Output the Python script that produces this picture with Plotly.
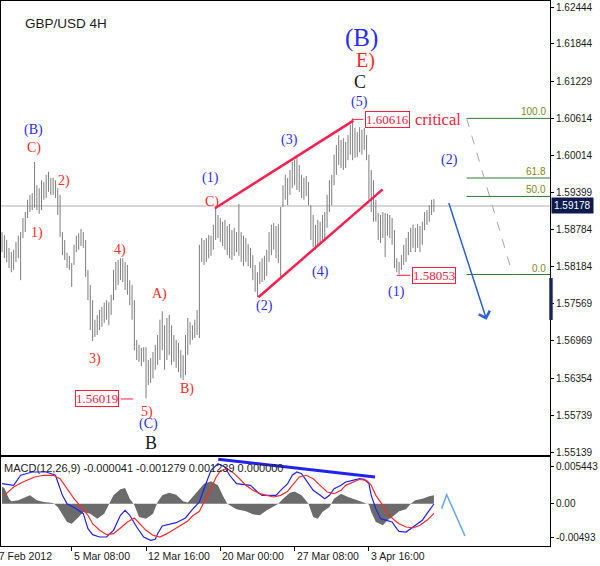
import plotly.graph_objects as go

# ---------------- data ----------------
bar_index = list(range(2, 189))  # 4H bars, index 0 = 27 Feb 2012 00:00

bar_high = [
    1.5875, 1.5870, 1.5862, 1.5849, 1.5842, 1.5846, 1.5859, 1.5869, 1.5875, 1.5898,
    1.5908, 1.5928, 1.5936, 1.5939, 1.5990, 1.5952, 1.5947, 1.5960, 1.5957, 1.5969,
    1.5974, 1.5964, 1.5964, 1.5960, 1.5947, 1.5936, 1.5875, 1.5862, 1.5841, 1.5836,
    1.5824, 1.5854, 1.5869, 1.5873, 1.5880, 1.5875, 1.5862, 1.5813, 1.5788, 1.5763,
    1.5731, 1.5739, 1.5747, 1.5752, 1.5759, 1.5763, 1.5760, 1.5772, 1.5813, 1.5826,
    1.5829, 1.5832, 1.5832, 1.5826, 1.5821, 1.5796, 1.5788, 1.5763, 1.5698, 1.5690,
    1.5685, 1.5686, 1.5686, 1.5665, 1.5668, 1.5678, 1.5690, 1.5706, 1.5731, 1.5745,
    1.5722, 1.5734, 1.5739, 1.5722, 1.5706, 1.5698, 1.5693, 1.5681, 1.5673, 1.5706,
    1.5734, 1.5727, 1.5722, 1.5731, 1.5747, 1.5854, 1.5865, 1.5862, 1.5865, 1.5870,
    1.5869, 1.5887, 1.5915, 1.5903, 1.5898, 1.5892, 1.5895, 1.5885, 1.5888, 1.5878,
    1.5882, 1.5875, 1.5921, 1.5875, 1.5869, 1.5865, 1.5855, 1.5849, 1.5837, 1.5821,
    1.5809, 1.5826, 1.5832, 1.5836, 1.5846, 1.5875, 1.5887, 1.5890, 1.5885, 1.5888,
    1.5916, 1.5952, 1.5969, 1.5964, 1.5977, 1.5990, 1.5993, 1.5998, 1.5985, 1.5969,
    1.5964, 1.5967, 1.5957, 1.5919, 1.5903, 1.5887, 1.5895, 1.5892, 1.5903, 1.5908,
    1.5936, 1.5960, 1.5969, 1.6002, 1.6018, 1.6034, 1.6026, 1.6029, 1.6023, 1.6034,
    1.6051, 1.60616, 1.6046, 1.6039, 1.6047, 1.6043, 1.6046, 1.6034, 1.6002, 1.5977,
    1.5960, 1.5928, 1.5906, 1.5903, 1.5908, 1.5906, 1.5905, 1.5903, 1.5898, 1.5878,
    1.5832, 1.5826, 1.5837, 1.5854, 1.5865, 1.5875, 1.5882, 1.5887, 1.5882, 1.5888,
    1.5885, 1.5892, 1.5908, 1.5911, 1.5919, 1.5928, 1.5929,
]
bar_low = [
    1.5842, 1.5832, 1.5826, 1.5816, 1.5809, 1.5813, 1.5826, 1.5832, 1.5796, 1.5865,
    1.5875, 1.5898, 1.5908, 1.5911, 1.5915, 1.5911, 1.5905, 1.5911, 1.5928, 1.5931,
    1.5941, 1.5936, 1.5936, 1.5931, 1.5903, 1.5867, 1.5837, 1.5829, 1.5816, 1.5813,
    1.5785, 1.5821, 1.5842, 1.5846, 1.5852, 1.5849, 1.5801, 1.5763, 1.5714, 1.5696,
    1.5703, 1.5706, 1.5714, 1.5719, 1.5726, 1.5731, 1.5722, 1.5739, 1.5763, 1.5780,
    1.5788, 1.5796, 1.5793, 1.5780, 1.5772, 1.5755, 1.5731, 1.5681, 1.5665, 1.5662,
    1.5655, 1.5662, 1.56019, 1.5624, 1.5627, 1.5635, 1.5649, 1.5657, 1.5665, 1.5681,
    1.5649, 1.5665, 1.5673, 1.5657, 1.5662, 1.5652, 1.5645, 1.5635, 1.5632, 1.5640,
    1.5673, 1.5690, 1.5698, 1.5701, 1.5706, 1.5701, 1.5826, 1.5821, 1.5826, 1.5832,
    1.5836, 1.5846, 1.5862, 1.5865, 1.5859, 1.5852, 1.5846, 1.5837, 1.5832, 1.5829,
    1.5836, 1.5842, 1.5836, 1.5826, 1.5819, 1.5826, 1.5819, 1.5816, 1.5796, 1.5777,
    1.5768, 1.5790, 1.5793, 1.5796, 1.5803, 1.5826, 1.5837, 1.5846, 1.5832, 1.5824,
    1.5801, 1.5916, 1.5928, 1.5919, 1.5936, 1.5947, 1.5952, 1.5944, 1.5941, 1.5931,
    1.5928, 1.5934, 1.5919, 1.5862, 1.5850, 1.5846, 1.5854, 1.5855, 1.5862, 1.5865,
    1.5882, 1.5908, 1.5919, 1.5952, 1.5969, 1.5985, 1.5980, 1.5977, 1.5980, 1.5993,
    1.6002, 1.5993, 1.5997, 1.5998, 1.6006, 1.6002, 1.6010, 1.5993, 1.5928, 1.5908,
    1.5892, 1.5892, 1.5862, 1.5857, 1.5865, 1.5834, 1.5869, 1.5865, 1.5854, 1.5816,
    1.5809, 1.58053, 1.5813, 1.5821, 1.5826, 1.5837, 1.5842, 1.5849, 1.5842, 1.5849,
    1.5842, 1.5854, 1.5878, 1.5887, 1.5892, 1.5903, 1.5908,
]

macd_main_k = [2, 7, 10, 15, 21, 25, 28, 30, 34, 37, 39, 41, 44, 47, 50, 53, 55, 57, 60, 63,
               66, 68, 69, 71, 77, 81, 84, 87, 89, 92, 95, 98, 100, 103, 109, 112, 114, 120, 122, 125,
               127, 129, 131, 133, 136, 139, 141, 143, 145, 148, 150, 153, 156, 158, 160, 161, 163, 165, 168, 170,
               172, 173, 176, 178, 181, 183, 185, 188]
macd_main = [0.00293, 0.00269, 0.00416, 0.00464, 0.00464, 0.00416, 0.00123, 0.0, -0.00072, -0.00145,
             -0.00364, -0.00452, -0.00486, -0.00486, -0.00388, -0.00169, -0.00096, -0.00169, -0.00340, -0.00486,
             -0.00534, -0.00520, -0.00437, -0.00325, -0.00277, -0.00208, -0.00081, 0.00026, 0.00220, 0.00489,
             0.00585, 0.00537, 0.00416, 0.00293, 0.00269, 0.00172, 0.00123, 0.00123, 0.00196, 0.00293,
             0.00416, 0.00464, 0.00440, 0.00342, 0.00196, 0.00123, 0.00074, 0.00123, 0.00220, 0.00269,
             0.00318, 0.00342, 0.00366, 0.00357, 0.00293, 0.00123, -0.00072, -0.00218, -0.00242, -0.00267,
             -0.00364, -0.00403, -0.00413, -0.00364, -0.00291, -0.00242, -0.00145, -0.00004]

macd_signal_k = [3, 7, 11, 16, 20, 24, 27, 30, 33, 36, 39, 41, 44, 47, 50, 53, 56, 59, 61, 64,
                 67, 70, 73, 76, 79, 82, 84, 87, 89, 92, 94, 96, 99, 102, 105, 107, 110, 113, 116, 119,
                 122, 125, 127, 130, 133, 136, 139, 142, 145, 148, 150, 153, 156, 159, 161, 163, 166, 168, 171, 173,
                 176, 179, 182, 185, 188]
macd_signal = [0.00123, 0.00245, 0.00318, 0.00391, 0.00416, 0.00416, 0.00366, 0.00220, 0.00074, -0.00047,
               -0.00169, -0.00291, -0.00388, -0.00452, -0.00437, -0.00354, -0.00267, -0.00208, -0.00277, -0.00388,
               -0.00461, -0.00486, -0.00437, -0.00374, -0.00306, -0.00252, -0.00179, -0.00110, 0.00026, 0.00220,
               0.00376, 0.00483, 0.00512, 0.00440, 0.00342, 0.00269, 0.00196, 0.00147, 0.00123, 0.00099,
               0.00123, 0.00182, 0.00269, 0.00391, 0.00416, 0.00366, 0.00269, 0.00172, 0.00147, 0.00196,
               0.00269, 0.00318, 0.00357, 0.00342, 0.00269, 0.00123, -0.00023, -0.00145, -0.00242, -0.00291,
               -0.00340, -0.00354, -0.00315, -0.00242, -0.00140]

macd_hist_k = [2, 3, 5, 6, 9, 12, 14, 17, 20, 24, 26, 30, 32, 35, 37, 40, 43, 46, 48, 50,
               53, 55, 57, 59, 61, 64, 67, 69, 71, 74, 77, 80, 82, 84, 87, 89, 92, 95, 97, 99,
               103, 107, 110, 113, 116, 119, 121, 123, 126, 128, 131, 134, 136, 138, 140, 143, 145, 148, 151, 155,
               158, 160, 161, 163, 166, 168, 171, 173, 176, 178, 180, 183, 186, 188]
macd_hist = [0.00245, 0.0023, 0.00074, 0.00035, 0.0005, 0.00099, 0.00123, 0.0005, 0.00025, 0.0001,
             -0.00047, -0.00267, -0.00291, -0.00194, -0.00121, -0.00145, -0.00218, -0.00145, -0.00018, 0.00123,
             0.00211, 0.0023, 0.00074, -0.0002, -0.00194, -0.00218, -0.00145, 0.00025, 0.00123, 0.00162,
             0.0013, 0.00035, 0.0002, 0.00099, 0.0023, 0.00293, 0.00328, 0.00269, 0.00123, 0.0,
             -0.00081, -0.0011, -0.00154, -0.00169, -0.00096, -0.00032, 0.0, 0.00074, 0.0016, 0.0018,
             0.00123, 0.0, -0.00194, -0.00218, -0.00121, -0.00047, 0.00074, 0.00147, 0.00099, 0.0005,
             0.0001, -0.0001, -0.00121, -0.00267, -0.00315, -0.00242, -0.00169, -0.0011, -0.0008, 0.0,
             0.0005, 0.00074, 0.0011, 0.00124]

price_ticks = [1.62444, 1.61844, 1.61229, 1.60614, 1.60014, 1.59399, 1.58784,
               1.58184, 1.57569, 1.56969, 1.56354, 1.55739, 1.55139]
macd_ticks = [0.005443, 0.0, -0.00493]
macd_tick_text = ["0.005443", "0.00", "-0.00493"]
date_ticks = [0, 32, 64, 96, 128, 160]
date_labels = ["27 Feb 2012", "5 Mar 08:00", "12 Mar 16:00", "20 Mar 00:00", "27 Mar 08:00", "3 Apr 16:00"]

last_price = 1.59178
fib_high = 1.60616
fib_low = 1.58053
fib_levels = [100.0, 61.8, 50.0, 0.0]
macd_text = "MACD(12,26,9) -0.000041 -0.001279 0.001239 0.000000"

RED = "#ff2b2b"
BLUE = "#2b2bff"
BLACK = "#1a1a1a"
wave_labels = [
    ("(B)", 15.5, 1.6043, BLUE, 14), ("C)", 15.8, 1.6013, RED, 14),
    ("1)", 17.2, 1.5873, RED, 14), ("2)", 28.7, 1.5959, RED, 14),
    ("3)", 42.0, 1.5666, RED, 14), ("4)", 52.8, 1.5846, RED, 14),
    ("5)", 64.3, 1.5580, RED, 14), ("(C)", 65.0, 1.5560, BLUE, 14),
    ("B", 66.0, 1.5528, BLACK, 18), ("A)", 70.0, 1.5773, RED, 14),
    ("B)", 81.8, 1.5618, RED, 14), ("(1)", 91.6, 1.5963, BLUE, 14),
    ("C)", 92.3, 1.5925, RED, 14), ("(2)", 115.2, 1.5753, BLUE, 14),
    ("(3)", 126.0, 1.6026, BLUE, 14), ("(4)", 139.0, 1.5810, BLUE, 14),
    ("(5)", 156.0, 1.6089, BLUE, 14), ("C", 156.2, 1.6122, BLACK, 18),
    ("E)", 158.7, 1.6156, RED, 20), ("(B)", 157.0, 1.6194, BLUE, 25),
    ("(1)", 172.0, 1.5777, BLUE, 14), ("(2)", 194.9, 1.5993, BLUE, 14),
]
# channel drawn by the analyst: (k0, p0, k1, p1)
channel_lines = [(93.7, 1.5914, 153.3, 1.6058), (112.4, 1.5768, 165.9, 1.5945)]
# price call-outs: (text, box centre k, box centre price, connector from k, connector to k)
price_boxes = [("1.56019", 42.8, 1.5601, 58.5, 53.2),
               ("1.60616", 168.0, 1.6060, 152.6, 157.6),
               ("1.58053", 187.9, 1.5804, 172.0, 177.7)]
X_RANGE = [1.55, 238.0]

# ---------------- figure ----------------
fig = go.Figure()

seg_x, seg_y = [], []
for k, h, l in zip(bar_index, bar_high, bar_low):
    seg_x += [k, k, None]
    seg_y += [l, h, None]
fig.add_trace(go.Scatter(x=seg_x, y=seg_y, mode="lines", line=dict(color="#7d7d7d", width=1),
                         xaxis="x", yaxis="y", hoverinfo="skip"))

fig.add_trace(go.Scatter(x=macd_hist_k, y=macd_hist, mode="lines", fill="tozeroy",
                         fillcolor="#6b6b6b", line=dict(width=0, color="#6b6b6b"),
                         xaxis="x2", yaxis="y2", hoverinfo="skip"))
fig.add_trace(go.Scatter(x=macd_main_k, y=macd_main, mode="lines", line=dict(color="#2020ff", width=1.2),
                         xaxis="x2", yaxis="y2", hoverinfo="skip"))
fig.add_trace(go.Scatter(x=macd_signal_k, y=macd_signal, mode="lines", line=dict(color="#ff2a2a", width=1.2),
                         xaxis="x2", yaxis="y2", hoverinfo="skip"))

shapes = []
annotations = []

# current price line
shapes.append(dict(type="line", xref="x domain", yref="y", x0=0, x1=1, y0=last_price, y1=last_price,
                   line=dict(color="#c8c8c8", width=1.5), layer="below"))

# channel
for k0, p0, k1, p1 in channel_lines:
    shapes.append(dict(type="line", xref="x", yref="y", x0=k0, y0=p0, x1=k1, y1=p1,
                       line=dict(color="#ff2050", width=2.5)))

# fibonacci
fib_k0 = 202.1
for lvl in fib_levels:
    p = fib_low + (fib_high - fib_low) * lvl / 100.0
    shapes.append(dict(type="line", xref="x", yref="y", x0=fib_k0, x1=X_RANGE[1], y0=p, y1=p,
                       line=dict(color="#2f7a3a", width=1)))
    annotations.append(dict(x=237.3, y=p, xref="x", yref="y", text=f"{lvl:.1f}", showarrow=False,
                            xanchor="right", yanchor="bottom", yshift=-1,
                            font=dict(family="Liberation Sans", size=10, color="#7b8a22")))
shapes.append(dict(type="line", xref="x", yref="y", x0=fib_k0, y0=fib_high, x1=221.9, y1=fib_low,
                   line=dict(color="#a8a8a8", width=1, dash="dash")))

# price call-outs
for txt, kc, pc, ka, kb in price_boxes:
    shapes.append(dict(type="line", xref="x", yref="y", x0=ka, x1=kb, y0=pc, y1=pc,
                       line=dict(color="#ff2040", width=1)))
    annotations.append(dict(x=kc, y=pc, xref="x", yref="y", text=txt, showarrow=False,
                            font=dict(family="Liberation Serif", size=13, color="#ff2040"),
                            bgcolor="white", bordercolor="#ff2040", borderwidth=1, borderpad=0))
annotations.append(dict(x=179.1, y=1.6060, xref="x", yref="y", text="critical", showarrow=False,
                        xanchor="left", font=dict(family="Liberation Serif", size=16.5, color="#ff2040")))

# wave labels
for txt, k, p, col, sz in wave_labels:
    annotations.append(dict(x=k, y=p, xref="x", yref="y", text=txt, showarrow=False,
                            font=dict(family="Liberation Serif", size=sz, color=col)))

# forecast arrow
annotations.append(dict(x=210.7, y=1.5731, ax=194.2, ay=1.5925, xref="x", yref="y",
                        axref="x", ayref="y", text="", showarrow=True, arrowhead=4,
                        arrowsize=1.5, arrowwidth=1.5, arrowcolor="#2d5fd9"))

# title
annotations.append(dict(x=11.0, y=1.62177, xref="x", yref="y", text="GBP/USD 4H", showarrow=False,
                        xanchor="left", font=dict(family="Liberation Sans", size=13.5, color="#1a1a1a")))

# current price box on the axis
annotations.append(dict(x=1, y=last_price, xref="paper", yref="y", text="1.59178", showarrow=False,
                        xanchor="left", xshift=1, bgcolor="#0d1a4e", borderpad=2,
                        font=dict(family="Liberation Sans", size=10, color="white")))
shapes.append(dict(type="rect", xref="paper", yref="y", x0=0.9987, x1=1.0049, y0=1.57306, y1=1.57995,
                   fillcolor="#1b2255", line=dict(width=0)))

# MACD panel decorations
annotations.append(dict(x=1.98, y=0.00522, xref="x2", yref="y2", text=macd_text, showarrow=False,
                        xanchor="left", font=dict(family="Liberation Sans", size=11, color="#222222")))
shapes.append(dict(type="line", xref="x2", yref="y2", x0=95.1, y0=0.00649, x1=162.6, y1=0.00391,
                   line=dict(color="#2222ee", width=3)))
shapes.append(dict(type="path", xref="x2", yref="y2",
                   path="M 191.3,-0.00072 L 193.5,0.00132 L 201.4,-0.00471",
                   line=dict(color="#6aa6e6", width=1.5)))

# date labels (first tick lies just left of the visible range, so its label is anchored at the edge)
for i, (k, lab) in enumerate(zip(date_ticks, date_labels)):
    first = k < X_RANGE[0]
    annotations.append(dict(x=X_RANGE[0] if first else k, y=-0.0185, xref="x2", yref="paper", text=lab,
                            showarrow=False, xanchor="left", yanchor="middle", xshift=-10 if first else 0,
                            font=dict(family="Liberation Sans", size=10.5, color="#1a1a1a")))

axis_common = dict(showline=True, mirror=True, linecolor="black", linewidth=1,
                   showgrid=False, zeroline=False)
fig.update_layout(
    width=600, height=566,
    margin=dict(l=1, r=50, t=1, b=20),
    paper_bgcolor="white", plot_bgcolor="white",
    showlegend=False, hovermode=False,
    xaxis=dict(domain=[0, 1], range=X_RANGE, anchor="y", showticklabels=False, ticks="", **axis_common),
    yaxis=dict(domain=[0.16697, 1], range=[1.55090, 1.62543], anchor="x", side="right",
               tickvals=price_ticks, ticktext=[f"{v:.5f}" for v in price_ticks],
               ticks="outside", ticklen=3, tickcolor="black",
               tickfont=dict(family="Liberation Sans", size=10, color="#1a1a1a"), **axis_common),
    xaxis2=dict(domain=[0, 1], range=X_RANGE, anchor="y2", showticklabels=False,
                ticks="outside", ticklen=4, tickcolor="black", tickvals=date_ticks, **axis_common),
    yaxis2=dict(domain=[0, 0.16239], range=[-0.006173, 0.006757], anchor="x2", side="right",
                tickvals=macd_ticks, ticktext=macd_tick_text,
                ticks="outside", ticklen=3, tickcolor="black",
                tickfont=dict(family="Liberation Sans", size=10, color="#1a1a1a"), **axis_common),
    shapes=shapes, annotations=annotations,
)

fig.write_html("out.html", config={"displayModeBar": False},
               post_script="document.body.style.margin='0';document.body.style.padding='0';")
